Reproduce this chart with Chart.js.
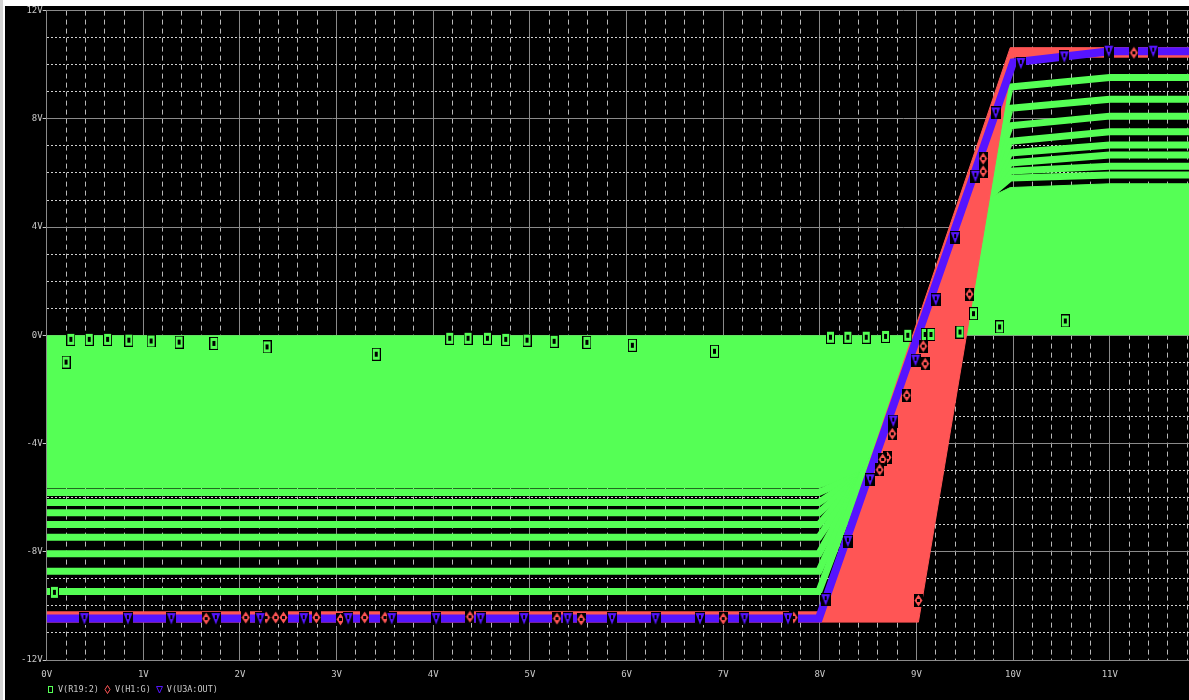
<!DOCTYPE html>
<html>
<head>
<meta charset="utf-8">
<script src="https://cdn.jsdelivr.net/npm/chart.js@4/dist/chart.umd.min.js"></script>
<style>
  html, body { margin: 0; padding: 0; width: 1189px; height: 700px; overflow: hidden; background: #fff; }
  #edge { position: absolute; left: 0; top: 0; width: 3px; height: 700px; background: #d4d4d4; }
  #wrap { position: absolute; left: 5px; top: 6px; width: 1184px; height: 694px; background: #000; }
  #key { position: absolute; left: 47px; top: 685px; display: flex; align-items: center;
         font: 8.5px/9px "DejaVu Sans Mono", monospace; color: #c8c8c8; white-space: pre; }
  #key canvas { display: block; }
  #key span { margin-left: 4px; margin-right: 5px; }
</style>
</head>
<body>
<div id="edge"></div>
<div id="wrap"><canvas id="plot" width="1184" height="694"></canvas></div>
<div id="key"></div>
<script>
// Colours used by the probe traces
const GREEN = '#55ff55';
const RED = '#ff5555';
const BLUE = '#5614ff';

// V(R19:2) - solid bands made by the dense part of the sweep
const greenNegFillX = [0, 7.99, 8.45, 9.45];
const greenNegFillY = [-5.64, -5.64, -5.1, 0];
const greenPosFillX = [9.42, 9.7, 9.97, 11.0, 11.82];
const greenPosFillY = [0, 5.0, 5.46, 5.6, 5.6];

// V(R19:2) - the separated traces of the sweep
const greenX = [0, 7.99, 8.45, 9.42, 9.7, 9.97, 11.0, 11.82];
const greenY1 = [-9.47, -9.47, -5.1, 0, 5.0, 9.18, 9.53, 9.53];
const greenY2 = [-8.72, -8.72, -5.1, 0, 5.0, 8.39, 8.72, 8.72];
const greenY3 = [-8.07, -8.07, -5.1, 0, 5.0, 7.74, 8.10, 8.10];
const greenY4 = [-7.46, -7.46, -5.1, 0, 5.0, 7.17, 7.52, 7.52];
const greenY5 = [-6.99, -6.99, -5.1, 0, 5.0, 6.74, 7.03, 7.03];
const greenY6 = [-6.56, -6.56, -5.1, 0, 5.0, 6.37, 6.66, 6.66];
const greenY7 = [-6.18, -6.18, -5.1, 0, 5.0, 6.07, 6.25, 6.25];
const greenY8 = [-5.81, -5.81, -5.1, 0, 5.0, 5.81, 5.92, 5.92];

// V(H1:G) - envelope of the red traces
const redTopX = [0, 7.99, 9.97, 11.82];
const redTopY = [-10.22, -10.22, 10.63, 10.63];
const redBotX = [0, 9.02, 10.0, 11.82];
const redBotY = [-10.6, -10.6, 10.28, 10.28];

// V(U3A:OUT)
const blueX = [0, 7.99, 10.0, 11.0, 11.82];
const blueY = [-10.47, -10.47, 10.08, 10.5, 10.5];

// marker positions
const greenMarkX = [0.2, 0.25, 0.44, 0.63, 0.85, 1.08, 1.37, 1.73, 2.28, 3.41, 4.17, 4.36, 4.56, 4.75, 4.97, 5.25, 5.59, 6.06, 6.91,
  8.11, 8.29, 8.48, 8.68, 8.91, 9.09, 9.15, 9.45, 9.59, 9.86, 10.54, 0.08];
const greenMarkY = [-0.99, -0.15, -0.15, -0.15, -0.18, -0.21, -0.25, -0.3, -0.43, -0.7, -0.11, -0.11, -0.11, -0.15, -0.18, -0.22, -0.26, -0.37, -0.59,
  -0.07, -0.07, -0.07, -0.04, 0, 0.03, 0.03, 0.12, 0.8, 0.31, 0.53, -9.5];
const redMarkX = [1.65, 2.06, 2.27, 2.37, 2.45, 2.79, 3.04, 3.29, 3.5, 4.38, 5.28, 5.53, 7.0, 7.73,
  9.02, 8.9, 8.75, 8.7, 8.65, 8.62, 9.07, 9.09, 9.55, 9.69, 9.69, 11.25];
const redMarkY = [-10.47, -10.43, -10.43, -10.43, -10.43, -10.43, -10.5, -10.43, -10.43, -10.4, -10.47, -10.5, -10.47, -10.43,
  -9.8, -2.22, -3.64, -4.51, -4.59, -4.97, -0.4, -1.05, 1.52, 6.53, 6.06, 10.44];
const blueMarkX = [0.39, 0.84, 1.29, 1.75, 2.21, 2.66, 3.12, 3.57, 4.03, 4.49, 4.94, 5.39, 5.85, 6.3, 6.76, 7.22, 7.67,
  8.06, 8.29, 8.52, 8.76, 8.99, 9.2, 9.4, 9.61, 9.82, 10.08, 10.53, 10.99, 11.45];
const blueMarkY = [-10.47, -10.47, -10.47, -10.47, -10.47, -10.47, -10.47, -10.47, -10.47, -10.47, -10.47, -10.47, -10.47, -10.47, -10.47, -10.47, -10.47,
  -9.77, -7.61, -5.34, -3.17, -0.92, 1.31, 3.61, 5.88, 8.22, 10.05, 10.29, 10.5, 10.5];

// axis
const xMin = 0, xMax = 11.82, yMin = -12, yMax = 12;
const legendNames = ['V(R19:2)', 'V(H1:G)', 'V(U3A:OUT)'];

const xTickVals = [];
for (let i = 0; i <= 59; i++) xTickVals.push(+(i * 0.2).toFixed(1));
const yTickVals = [];
for (let v = yMin; v <= yMax; v++) yTickVals.push(v);

const isMajorX = v => Math.abs(v - Math.round(v)) < 1e-6;
const isMajorY = v => v % 4 === 0;

function pts(xs, ys) {
    return xs.map((x, i) => ({x: x, y: ys[i]}));
}

// little bitmaps in the PSpice marker style
function makeMarker(w, h, paint) {
    const c = document.createElement('canvas');
    c.width = w;
    c.height = h;
    paint(c.getContext('2d'));
    return c;
}

let squareMark = makeMarker(9, 13, g => {
    g.fillStyle = '#000'; g.fillRect(0, 0, 9, 13);
    g.fillStyle = GREEN; g.fillRect(1, 1, 7, 11);
    g.fillStyle = '#000'; g.fillRect(3, 4, 3, 5);
});
let diamondMark = makeMarker(9, 13, g => {
    g.fillStyle = '#000'; g.fillRect(0, 0, 9, 13);
    g.fillStyle = RED;
    g.beginPath(); g.moveTo(4.5, 0.5); g.lineTo(8.5, 6.5); g.lineTo(4.5, 12.5); g.lineTo(0.5, 6.5); g.closePath(); g.fill();
    g.fillStyle = '#000'; g.fillRect(3, 5, 3, 3);
});
let triangleMark = makeMarker(10, 13, g => {
    g.fillStyle = '#000'; g.fillRect(0, 0, 10, 13);
    g.fillStyle = BLUE;
    g.beginPath(); g.moveTo(0.5, 1); g.lineTo(9.5, 1); g.lineTo(5, 12.5); g.closePath(); g.fill();
    g.fillStyle = '#000'; g.fillRect(4, 3, 2, 4);
});

// hollow versions for the legend
let squareKey = makeMarker(7, 9, g => {
    g.strokeStyle = GREEN; g.lineWidth = 1; g.strokeRect(1.5, 1.5, 4, 6);
});
let diamondKey = makeMarker(7, 9, g => {
    g.strokeStyle = RED; g.lineWidth = 1;
    g.beginPath(); g.moveTo(3.5, 0.5); g.lineTo(6, 4.5); g.lineTo(3.5, 8.5); g.lineTo(1, 4.5); g.closePath(); g.stroke();
});
let triangleKey = makeMarker(7, 9, g => {
    g.strokeStyle = BLUE; g.lineWidth = 1;
    g.beginPath(); g.moveTo(0.5, 1.5); g.lineTo(6.5, 1.5); g.lineTo(3.5, 8); g.closePath(); g.stroke();
});

// legend row under the plot
let key = document.getElementById('key');
[squareKey, diamondKey, triangleKey].forEach((img, i) => {
    key.appendChild(img);
    let label = document.createElement('span');
    label.textContent = legendNames[i];
    key.appendChild(label);
});

function traceLine(xs, ys, color, width, order) {
    return {
        data: pts(xs, ys),
        borderColor: color,
        borderWidth: width,
        borderCapStyle: 'butt',
        borderJoinStyle: 'miter',
        pointRadius: 0,
        fill: false,
        order: order
    };
}

function withFill(ds, target, color) {
    ds.fill = target;
    ds.backgroundColor = color;
    return ds;
}

function markers(xs, ys, img, order) {
    return {
        data: pts(xs, ys),
        showLine: false,
        pointStyle: img,
        pointRadius: 5,
        order: order
    };
}

let datasets = [
    withFill(traceLine(greenNegFillX, greenNegFillY, GREEN, 1, 10), {value: 0}, GREEN),
    withFill(traceLine(greenPosFillX, greenPosFillY, GREEN, 1, 10), {value: 0}, GREEN),
    traceLine(greenX, greenY1, GREEN, 7, 9),
    traceLine(greenX, greenY2, GREEN, 7, 9),
    traceLine(greenX, greenY3, GREEN, 7, 9),
    traceLine(greenX, greenY4, GREEN, 7, 9),
    traceLine(greenX, greenY5, GREEN, 7, 9),
    traceLine(greenX, greenY6, GREEN, 7, 9),
    traceLine(greenX, greenY7, GREEN, 7, 9),
    traceLine(greenX, greenY8, GREEN, 7, 9),
    withFill(traceLine(redTopX, redTopY, RED, 1, 8), '+1', RED),
    traceLine(redBotX, redBotY, RED, 1, 8),
    traceLine(blueX, blueY, BLUE, 8, 7),
    markers(greenMarkX, greenMarkY, squareMark, 3),
    markers(redMarkX, redMarkY, diamondMark, 2),
    markers(blueMarkX, blueMarkY, triangleMark, 1)
];

const tickFont = {family: 'DejaVu Sans Mono', size: 9, lineHeight: 1};

new Chart(document.getElementById('plot'), {
    type: 'line',
    data: {datasets: datasets},
    options: {
        responsive: false,
        animation: false,
        events: [],
        layout: {autoPadding: false, padding: {left: 0, right: 0, top: 4.6, bottom: 0}},
        scales: {
            x: {
                type: 'linear',
                min: xMin,
                max: xMax,
                afterBuildTicks: s => { s.ticks = xTickVals.map(v => ({value: v})); },
                afterFit: s => { s.height = 40; },
                ticks: {
                    autoSkip: false,
                    maxRotation: 0,
                    padding: 0,
                    color: '#c8c8c8',
                    font: tickFont,
                    callback: v => isMajorX(v) ? Math.round(v) + 'V' : ''
                },
                grid: {
                    color: c => isMajorX(c.tick.value) ? '#8a8a8a' : '#b8b8b8',
                    lineWidth: 1,
                    tickLength: 10.5,
                    tickColor: 'rgba(0,0,0,0)'
                },
                border: {
                    color: '#8a8a8a',
                    dash: c => (c.tick && !isMajorX(c.tick.value)) ? [5, 4] : []
                }
            },
            y: {
                type: 'linear',
                min: yMin,
                max: yMax,
                afterBuildTicks: s => { s.ticks = yTickVals.map(v => ({value: v})); },
                afterFit: s => { s.width = 41.7; },
                ticks: {
                    autoSkip: false,
                    padding: 0,
                    color: '#c8c8c8',
                    font: tickFont,
                    callback: v => isMajorY(v) ? v + 'V' : ''
                },
                grid: {
                    color: c => isMajorY(c.tick.value) ? '#8a8a8a' : '#d0d0d0',
                    lineWidth: 1,
                    tickLength: 4,
                    tickColor: c => isMajorY(c.tick.value) ? '#c8c8c8' : 'rgba(0,0,0,0)'
                },
                border: {
                    color: '#8a8a8a',
                    dash: c => (c.tick && !isMajorY(c.tick.value)) ? [2, 2] : []
                }
            }
        },
        plugins: {
            tooltip: {enabled: false},
            legend: {display: false}
        }
    }
});
</script>
</body>
</html>
